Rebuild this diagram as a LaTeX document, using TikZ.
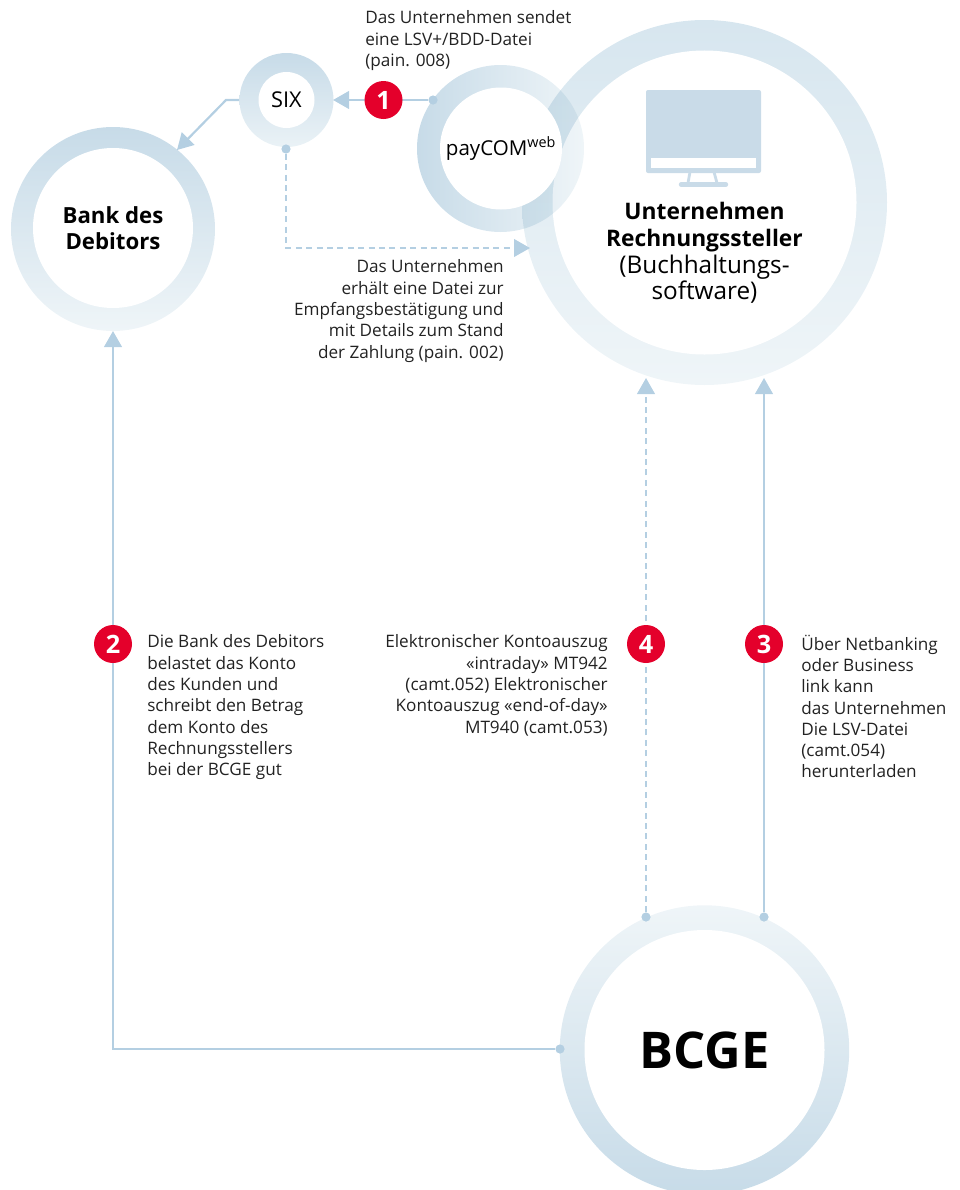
\documentclass[tikz,border=0pt]{standalone}
\usepackage{fontspec}
\setmainfont{Open Sans}
\usetikzlibrary{arrows.meta,calc}
\definecolor{linecol}{HTML}{B4CFE2}
\definecolor{screencol}{HTML}{C9DBE8}
\definecolor{badgecol}{HTML}{E4002B}
\definecolor{textcol}{HTML}{222222}
\definecolor{ringdark}{HTML}{C7DBE8}
\definecolor{ringmid}{HTML}{D7E6EF}
\definecolor{ringlight}{HTML}{EFF5F8}
\tikzset{
	hole/.style={circle,fill=white,inner sep=0pt,text=black,align=center},
	badge/.style={circle,fill=badgecol,text=white,inner sep=0pt,minimum size=9.5mm,font=\fontsize{18}{18}\selectfont\bfseries},
	dot/.style={circle,fill=linecol,inner sep=0pt,minimum size=2.3mm},
	conn/.style={draw=linecol,line width=0.55mm,-{Triangle[length=4mm,width=4.4mm]}},
	dashconn/.style={conn,dash pattern=on 1.5mm off 1.1mm},
	note/.style={inner sep=0pt,text=textcol,font=\fontsize{12.2}{15.15}\selectfont},
	leftnote/.style={note,anchor=north west,align=left},
	rightnote/.style={note,anchor=north east,align=right}
}
\begin{document}
\begin{tikzpicture}[x=0.25mm,y=-0.25mm]
	\useasboundingbox (0,0) rectangle (960,1190);
	\coordinate (tipSIX) at (333,100);
	\coordinate (tipBank) at (177,150);
	\coordinate (bendBank) at (226,100);
	\coordinate (tipFirma) at (530,248);
	\coordinate (tipDebit) at (113,331);
	\coordinate (tipKonto) at (646,378);
	\coordinate (tipLSV) at (764,378);
	% rings
	\shade[top color=ringdark,bottom color=ringlight] (113,229) circle[radius=102];
	\shade[top color=ringdark,bottom color=ringlight!80!ringmid] (286.5,100) circle[radius=47];
	\shade[top color=ringmid,bottom color=ringlight] (704.5,202.5) circle[radius=182.5];
	\node[hole,minimum size=76mm] (firmaHole) at (704.5,202.5) {};
	\shade[blend mode=multiply,left color=ringdark,right color=ringlight] (500.5,148.5) circle[radius=83.5];
	\shade[top color=ringlight,bottom color=ringdark] (704.5,1050) circle[radius=144.7];
	% holes with their labels
	\node[hole,minimum size=40mm,font=\fontsize{15.8}{18.5}\selectfont\bfseries] (bank) at (113,228) {Bank des\\Debitors};
	\node[hole,minimum size=14mm,font=\fontsize{15.5}{18}\selectfont] (six) at (286.5,100) {SIX};
	\node[hole,minimum size=30.5mm,font=\fontsize{14.6}{18}\selectfont] (paycom) at (501,148.5) {payCOM\textsuperscript{web}};
	\node[hole,minimum size=60mm,font=\fontsize{36}{40}\selectfont\bfseries] (bcge) at (704.5,1050) {BCGE};
	% monitor
	\fill[screencol,rounded corners=0.5mm] (646,90) rectangle (761,173);
	\fill[white] (650.5,158) rectangle (756,168);
	\draw[screencol,line width=0.7mm] (690,172) -- (688,183) (714,172) -- (717,183);
	\draw[screencol,line width=1.1mm,line cap=round] (681,184.5) -- (726,184.5);
	\node[align=center,text=black,font=\fontsize{17.3}{19}\selectfont] (firma) at (704.5,253)
		{\fontsize{16.2}{19}\selectfont\textbf{Unternehmen}\\\fontsize{16.2}{19}\selectfont\textbf{Rechnungssteller}\\(Buchhaltungs-\\software)};
	% dots
	\node[dot] (dotPay) at (433,100) {};
	\node[dot] (dotSix) at (286,149) {};
	\node[dot] (dotKonto) at (646,917) {};
	\node[dot] (dotLSV) at (764,917) {};
	\node[dot] (dotDebit) at (560,1049) {};
	% connectors
	\draw[conn] (dotPay) -- (tipSIX);
	\draw[conn] (239,100) -- (bendBank) -- (tipBank);
	\draw[dashconn] (dotSix) |- (tipFirma);
	\draw[conn] (dotDebit) -| (tipDebit);
	\draw[dashconn] (dotKonto) -- (tipKonto);
	\draw[conn] (dotLSV) -- (tipLSV);
	% badges
	\node[badge] (one) at (383.5,100) {1};
	\node[badge] (two) at (113,644) {2};
	\node[badge] (four) at (646,644) {4};
	\node[badge] (three) at (764,644) {3};
	% notes
	\node[leftnote] (noteOne) at (365,10.5) {Das Unternehmen sendet\\eine LSV+/BDD-Datei\\(pain. 008)};
	\node[rightnote] (noteSix) at (504,259.5) {Das Unternehmen\\erhält eine Datei zur\\Empfangsbestätigung und\\mit Details zum Stand\\der Zahlung (pain. 002)};
	\node[leftnote] (noteTwo) at (147,634.5) {Die Bank des Debitors\\belastet das Konto\\des Kunden und\\schreibt den Betrag\\dem Konto des\\Rechnungsstellers\\bei der BCGE gut};
	\node[rightnote] (noteFour) at (608,634.5) {Elektronischer Kontoauszug\\«intraday» MT942\\(camt.052) Elektronischer\\Kontoauszug «end-of-day»\\MT940 (camt.053)};
	\node[leftnote] (noteThree) at (801,634.5) {Über Netbanking\\oder Business\\link kann\\das Unternehmen\\Die LSV-Datei\\(camt.054)\\herunterladen};
\end{tikzpicture}
\end{document}
